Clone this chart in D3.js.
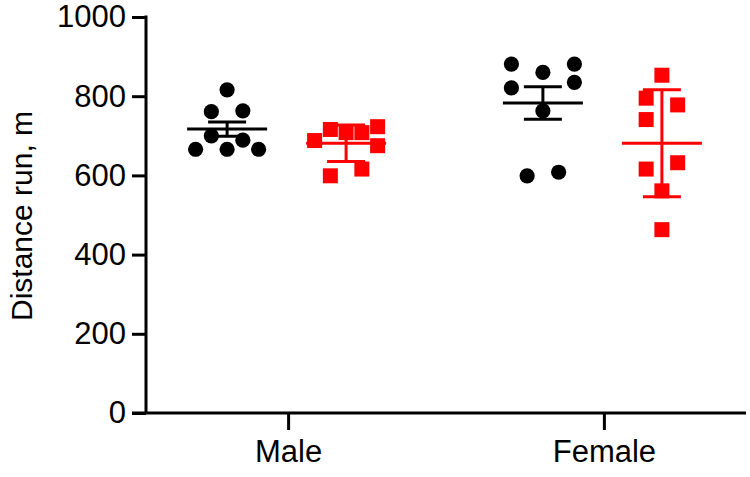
<!DOCTYPE html>
<html><head><meta charset="utf-8">
<script src="https://cdn.jsdelivr.net/npm/d3@7"></script>
<style>
html,body{margin:0;padding:0;background:#fff;}
svg{display:block;font-family:"Liberation Sans",Arial,sans-serif;}
</style></head>
<body>
<svg id="chart" width="750" height="477"></svg>
<script>
// ---- data ----
const categories = ["Male", "Female"];
const series = ["Control", "Treated"];
const seriesColors = ["#000000", "#ff0000"];
const yTicks = [0, 200, 400, 600, 800, 1000];
const yLabel = "Distance run, m";

// individual points: value, jitter column
const maleControl   = [[816,0],[761,-1],[763,1],[700,-1],[689,1],[666,-2],[666,0],[666,2]];
const maleTreated   = [[688,-2],[716,-1],[708,0],[708,1],[723,2],[675,2],[599,-1],[616,1]];
const femaleControl = [[881,-2],[881,2],[860,0],[821,-2],[835,2],[763,0],[599,-1],[608,1]];
const femaleTreated = [[853,0],[795,-1],[778,1],[741,-1],[616,-1],[632,1],[561,0],[463,0]];

// group summaries (mean line and error bar half-length)
const groupMeans  = [717, 681, 783, 681];
const groupErrors = [18, 46, 41, 135];
const groupKeys   = [["Male","Control"],["Male","Treated"],["Female","Control"],["Female","Treated"]];

const pointSets = [maleControl, maleTreated, femaleControl, femaleTreated];

// ---- layout ----
const svg = d3.select("#chart");
const y = d3.scaleLinear().domain([0, 1000]).range([413, 17]);
const x = d3.scalePoint().domain(categories).range([146, 746]).padding(0.45);
const xs = d3.scalePoint().domain(series).range([-61, 58]);
const jitter = d3.scaleLinear().domain([-2, 2]).range([-31.5, 31.5]);
const color = d3.scaleOrdinal().domain(series).range(seriesColors);

// y axis
const yAxis = svg.append("g").attr("transform", "translate(146,0)")
  .call(d3.axisLeft(y).tickValues(yTicks).tickFormat(d3.format("d")).tickSize(14).tickPadding(6).tickSizeOuter(0));
yAxis.select(".domain").attr("stroke", "#000").attr("stroke-width", 3).attr("d", `M0,${y(1000)-1.5}V${y(0)}`);
yAxis.selectAll(".tick line").attr("stroke", "#000").attr("stroke-width", 3);
yAxis.selectAll(".tick text").attr("fill", "#000").attr("font-size", 31)
  .attr("font-family", "Liberation Sans, Arial, sans-serif");

// x axis
const xAxis = svg.append("g").attr("transform", `translate(0,${y(0)})`)
  .call(d3.axisBottom(x).tickSize(17).tickPadding(10).tickSizeOuter(0));
xAxis.select(".domain").attr("stroke", "#000").attr("stroke-width", 3).attr("d", "M132,0H746");
xAxis.selectAll(".tick line").attr("stroke", "#000").attr("stroke-width", 3);
xAxis.selectAll(".tick text").attr("fill", "#000").attr("font-size", 31)
  .attr("font-family", "Liberation Sans, Arial, sans-serif");

// y label
svg.append("text")
  .attr("transform", `translate(32,216) rotate(-90)`)
  .attr("text-anchor", "middle")
  .attr("font-size", 30)
  .attr("fill", "#000")
  .text(yLabel);

// points
const sym = {Control: d3.symbolCircle, Treated: d3.symbolSquare};
const symSize = {Control: Math.PI * 7.6 * 7.6, Treated: 15 * 15};
pointSets.forEach((pts, i) => {
  const [cat, ser] = groupKeys[i];
  const cx = x(cat) + xs(ser);
  svg.append("g").selectAll("path").data(pts).join("path")
    .attr("d", d3.symbol().type(sym[ser]).size(symSize[ser]))
    .attr("transform", d => `translate(${cx + jitter(d[1])},${y(d[0])})`)
    .attr("fill", color(ser));
});

// mean and error bars
groupKeys.forEach(([cat, ser], i) => {
  const cx = x(cat) + xs(ser);
  const m = groupMeans[i], e = groupErrors[i];
  const g = svg.append("g").attr("stroke", color(ser)).attr("stroke-width", 3).attr("fill", "none");
  g.append("line").attr("x1", cx - 40).attr("x2", cx + 40).attr("y1", y(m)).attr("y2", y(m));
  g.append("line").attr("x1", cx).attr("x2", cx).attr("y1", y(m + e)).attr("y2", y(m - e));
  g.append("line").attr("x1", cx - 19).attr("x2", cx + 19).attr("y1", y(m + e)).attr("y2", y(m + e));
  g.append("line").attr("x1", cx - 19).attr("x2", cx + 19).attr("y1", y(m - e)).attr("y2", y(m - e));
});
</script>
</body></html>
